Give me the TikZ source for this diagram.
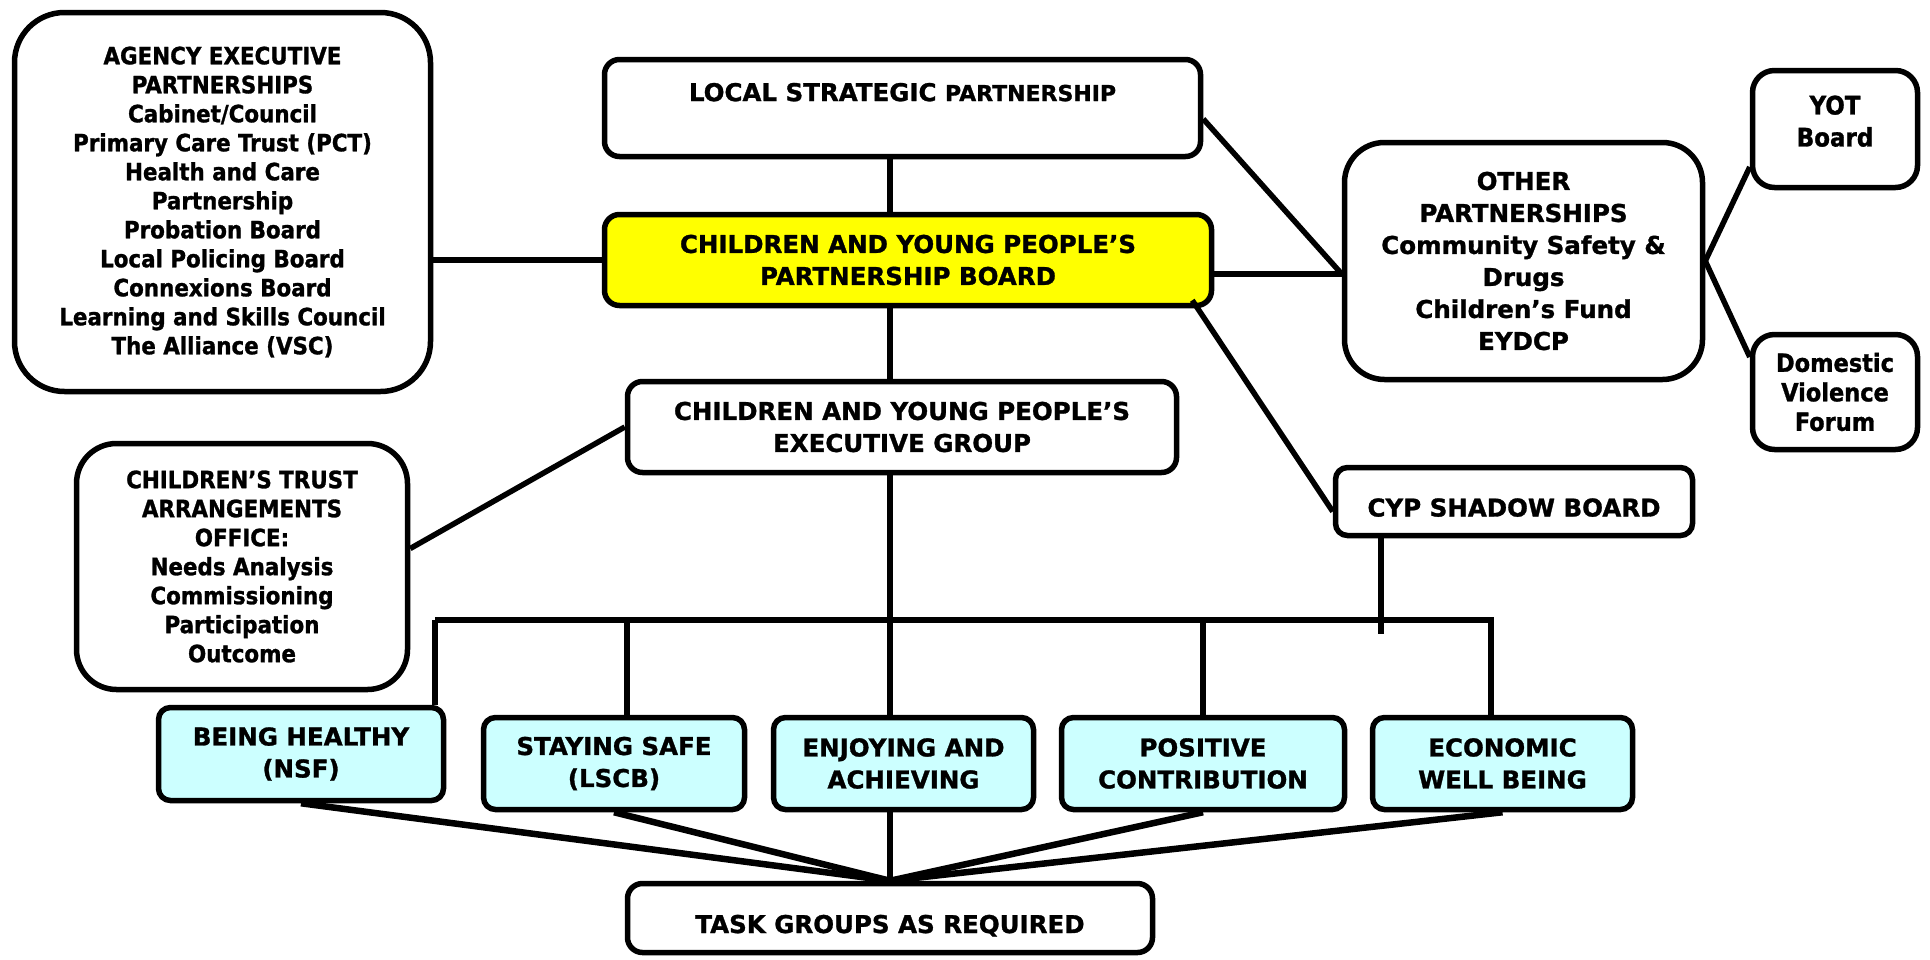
\documentclass[tikz,border=0pt]{standalone}
\usepackage{fontspec}
\newfontfamily\boxfont{DejaVu Sans Condensed Bold}[FakeBold=1.2]
\newfontfamily\capsfont{DejaVu Sans Bold}[FakeBold=1.2]
\definecolor{outcomeblue}{HTML}{CCFFFF}
\definecolor{boardyellow}{RGB}{255,255,0}

\begin{document}
\begin{tikzpicture}
  [x=1pt,y=-1pt,line width=5.5pt,
   every node/.style={draw,fill=white,rounded corners=15pt,align=center,inner sep=0pt,
     font=\capsfont\fontsize{24.5}{32}\selectfont},
   tight/.style={font=\boxfont\fontsize{23.8}{29}\selectfont},
   small/.style={font=\boxfont\fontsize{25.5}{32}\selectfont},
   oneline/.style={text height=30pt,text depth=0pt},
   outcome/.style={fill=outcomeblue,rounded corners=12pt}]
  \useasboundingbox (0,0) rectangle (1930,959);

  \node[tight,rounded corners=50pt,minimum width=416,minimum height=379] (agency) at (222.5,202)
    {AGENCY EXECUTIVE\\PARTNERSHIPS\\Cabinet/Council\\Primary Care Trust (PCT)\\Health and Care\\Partnership\\Probation Board\\Local Policing Board\\Connexions Board\\Learning and Skills Council\\The Alliance (VSC)};
  \node[minimum width=596,minimum height=97] (lsp) at (902.5,108)
    {LOCAL STRATEGIC {\fontsize{22}{32}\selectfont PARTNERSHIP}\\\mbox{}};
  \node[fill=boardyellow,minimum width=607,minimum height=91] (cypb) at (908,260)
    {CHILDREN AND YOUNG PEOPLE’S\\PARTNERSHIP BOARD};
  \node[minimum width=549,minimum height=91] (exec) at (902,427)
    {CHILDREN AND YOUNG PEOPLE’S\\EXECUTIVE GROUP};
  \node[rounded corners=40pt,minimum width=358,minimum height=237] (other) at (1523.5,261)
    {OTHER\\PARTNERSHIPS\\Community Safety \&\\Drugs\\Children’s Fund\\EYDCP};
  \node[small,rounded corners=22pt,minimum width=165,minimum height=117] (yot) at (1835,129)
    {YOT\\Board\\[-16pt]\mbox{}};
  \node[small,rounded corners=22pt,minimum width=165,minimum height=115,
        font=\boxfont\fontsize{25}{29.5}\selectfont] (dv) at (1835,392)
    {Domestic\\Violence\\Forum};
  \node[tight,rounded corners=40pt,minimum width=331,minimum height=246] (trust) at (242,566.5)
    {CHILDREN’S TRUST\\ARRANGEMENTS\\OFFICE:\\Needs Analysis\\Commissioning\\Participation\\Outcome};
  \node[oneline,rounded corners=12pt,minimum width=357,minimum height=68] (shadow) at (1514,501.5) {CYP SHADOW BOARD};

  \node[outcome,minimum width=285,minimum height=93] (health) at (301,754) {BEING HEALTHY\\(NSF)};
  \node[outcome,minimum width=261,minimum height=92] (safe) at (614,763.5) {STAYING SAFE\\(LSCB)};
  \node[outcome,minimum width=260,minimum height=92] (enjoy) at (903.5,763.5) {ENJOYING AND\\ACHIEVING};
  \node[outcome,minimum width=283,minimum height=92] (positive) at (1203,763.5) {POSITIVE\\CONTRIBUTION};
  \node[outcome,minimum width=260,minimum height=92] (economic) at (1502.5,763.5) {ECONOMIC\\WELL BEING};
  \node[oneline,minimum width=525,minimum height=69] (task) at (890,918) {TASK GROUPS AS REQUIRED};

  \coordinate (busL) at (435,620);
  \coordinate (busR) at (1491,620);
  \coordinate (oin) at ([yshift=-13]other.west);

  % main spine
  \draw (lsp.south -| task.north) -- (cypb.north -| task.north);
  \draw (cypb.south -| task.north) -- (exec.north -| task.north);
  \draw (exec.south -| task.north) -- (enjoy.north -| task.north);
  \draw (enjoy.south -| task.north) -- (task.north);

  % side partnerships
  \draw (agency.east |- cypb.west) -- (cypb.west);
  \draw (cypb.east |- oin) -- (oin);
  \draw ([yshift=-11]lsp.east) -- (oin);
  \draw ([xshift=-22,yshift=8]cypb.south east) -- ([yshift=-10]shadow.west);
  \draw (other.east) -- ([yshift=-38]yot.west);
  \draw (other.east) -- ([yshift=35]dv.west);
  \draw (exec.west) -- ([yshift=18]trust.east);

  % outcome bus
  \draw (busL) -- (busR);
  \foreach \n/\dx in {health/134,safe/13,positive/0,economic/-11.5}
    \draw ([xshift=\dx]\n.north) |- (busL);
  \draw ([xshift=-133]shadow.south) -- ++(0,96);

  \foreach \n in {health,safe,positive,economic}
    \draw[line width=6.5pt] (\n.south) -- (task.north);
\end{tikzpicture}
\end{document}
